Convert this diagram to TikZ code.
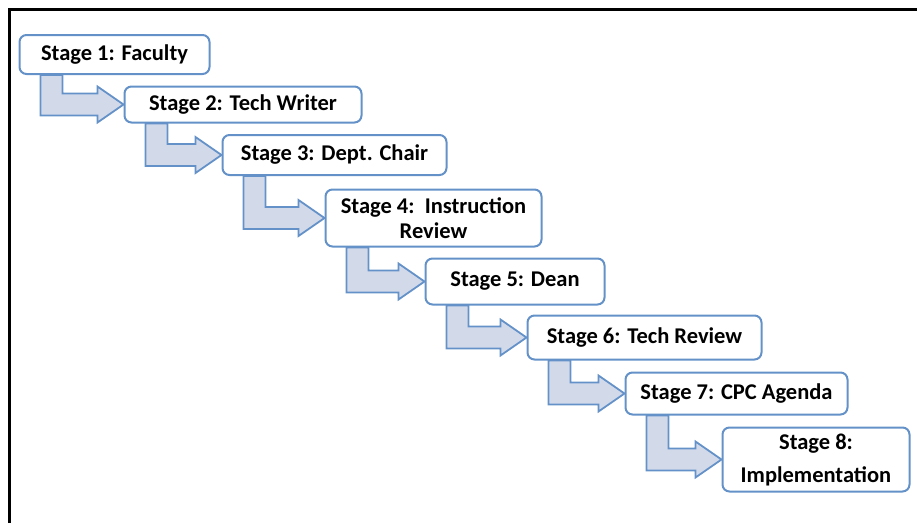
\documentclass[tikz,border=0pt]{standalone}
\usepackage{fontspec}
\setmainfont{Carlito}
\usetikzlibrary{calc,backgrounds}
\definecolor{stageblue}{RGB}{100,146,200}
\definecolor{stagefill}{RGB}{210,218,234}
\tikzset{
	stagebox/.style={draw=stageblue, line width=2pt, rounded corners=7pt, fill=white,
		align=center, inner sep=0pt, font=\bfseries\fontsize{22.5}{25}\selectfont},
	bentarrow/.style={draw=stageblue, line width=1.8pt, fill=stagefill, line join=miter}
}
\begin{document}
\begin{tikzpicture}[x=1pt,y=-1pt]
			\useasboundingbox (0,0) rectangle (917,523);
			\draw[line width=3pt] (9,523) -- (9,9) -- (917,9);
			\node[stagebox, minimum width=190pt, minimum height=39pt] (s1) at (114.5,54.5) {Stage 1: Faculty};
			\node[stagebox, minimum width=237pt, minimum height=36pt] (s2) at (243,104.5) {Stage 2: Tech Writer};
			\node[stagebox, minimum width=224pt, minimum height=40pt] (s3) at (334.5,155) {Stage 3: Dept. Chair};
			\node[stagebox, minimum width=216pt, minimum height=57pt] (s4) at (433.5,218) {Stage 4:\ \ Instruction\\Review};
			\node[stagebox, minimum width=179pt, minimum height=46pt] (s5) at (515,281.5) {Stage 5: Dean};
			\node[stagebox, minimum width=234pt, minimum height=44pt] (s6) at (644.5,337.5) {Stage 6: Tech Review};
			\node[stagebox, minimum width=222pt, minimum height=42pt] (s7) at (736.5,393.5) {Stage 7: CPC Agenda};
			\node[stagebox, minimum width=187pt, minimum height=64pt] (s8) at (816,459.5) {Stage 8:\\[8pt]Implementation};
			\begin{scope}[on background layer]
				\foreach \a/\b in {s1/s2,s2/s3,s3/s4,s4/s5,s5/s6,s6/s7,s7/s8}{
					\draw[bentarrow] ($(\a.south west)+(22,0)$) |- ($(\b.west)+(-26,11)$) -- ++(0,7)
						-- (\b.west) -- ++(-26,-18) -- ++(0,7) -| ($(\a.south west)+(44,0)$) -- cycle;
				}
			\end{scope}
		\end{tikzpicture}
\end{document}
